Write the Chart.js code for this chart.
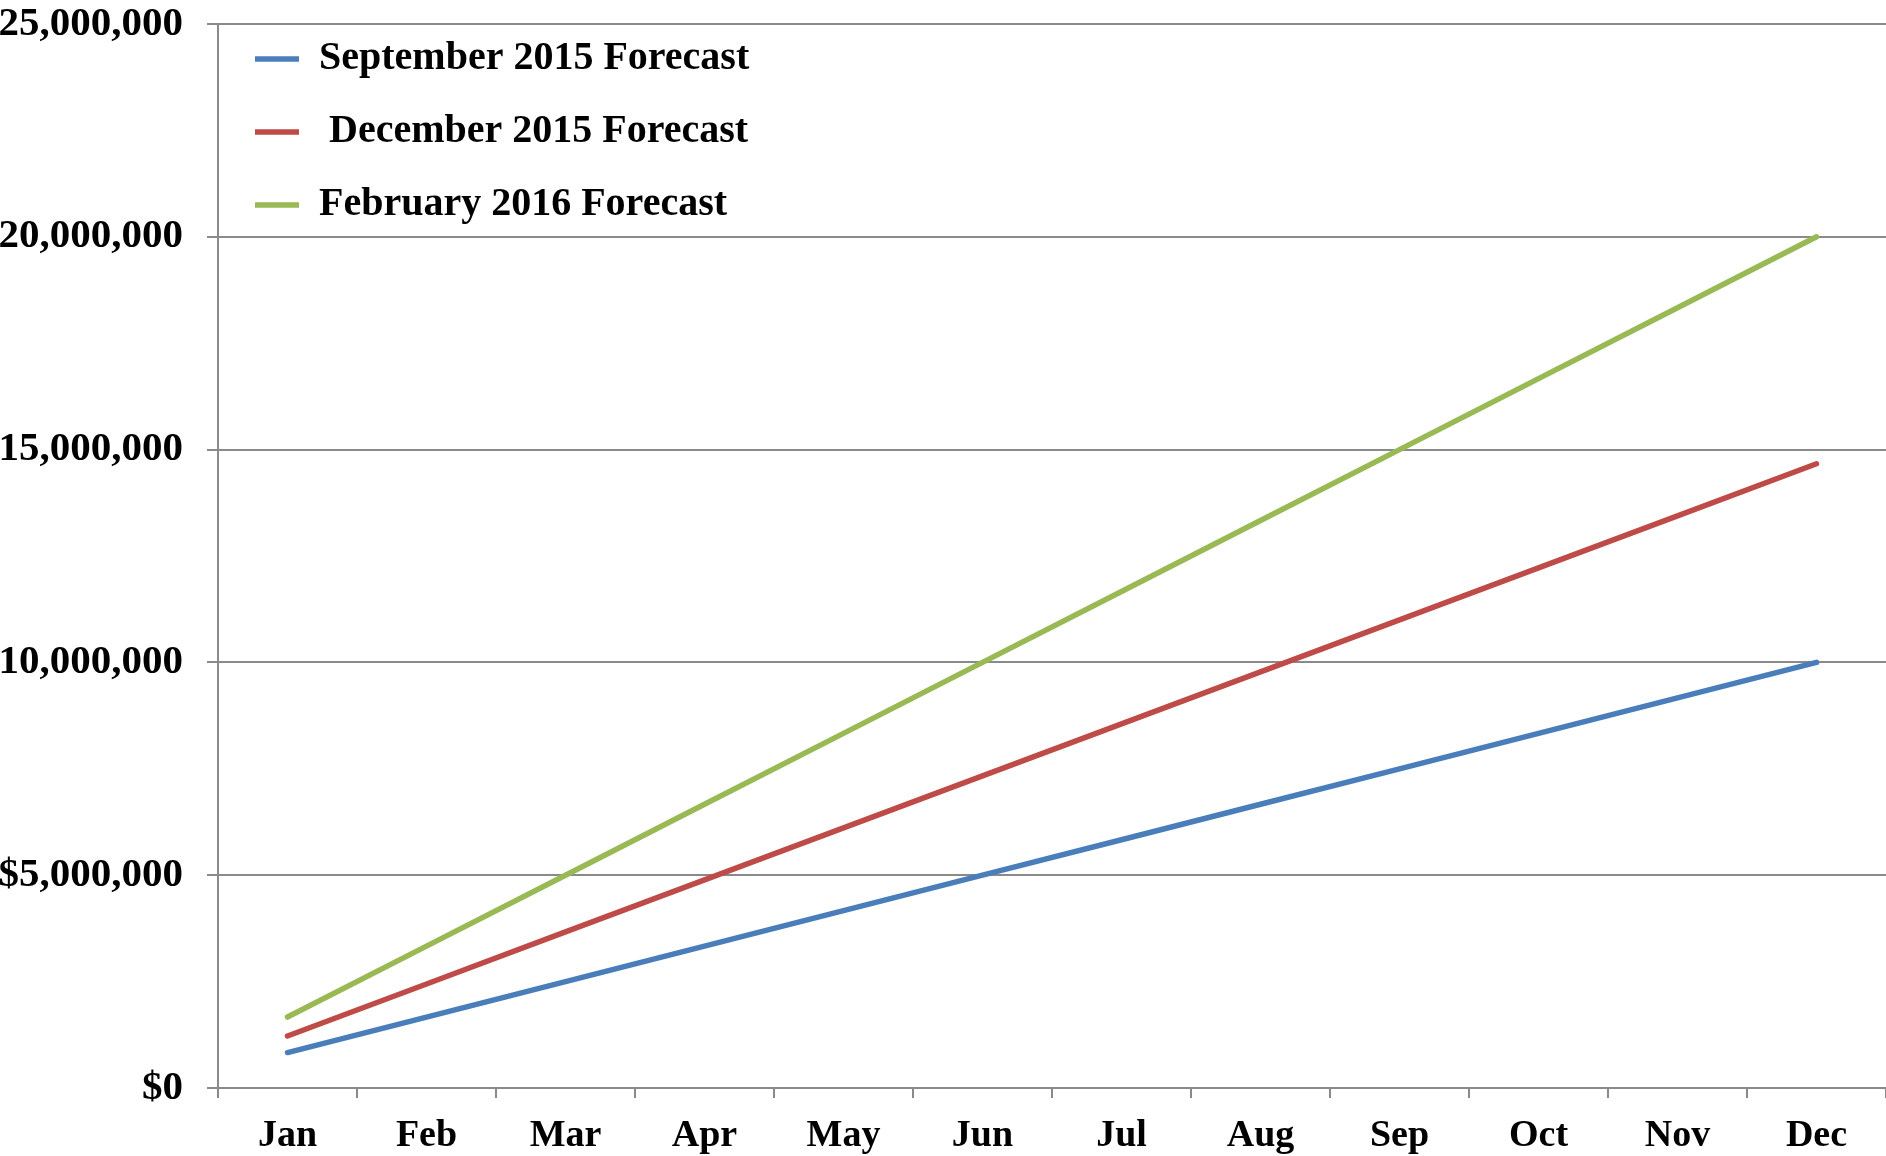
<!DOCTYPE html>
<html>
<head>
<meta charset="utf-8">
<script src="https://cdn.jsdelivr.net/npm/chart.js"></script>
<style>
  html, body { margin: 0; padding: 0; background: #fff; overflow: hidden; }
  #wrap { width: 1886px; height: 1156px; position: relative; }
</style>
</head>
<body>
<div id="wrap"><canvas id="forecastChart"></canvas></div>
<script>
// categories
var months = ['Jan', 'Feb', 'Mar', 'Apr', 'May', 'Jun', 'Jul', 'Aug', 'Sep', 'Oct', 'Nov', 'Dec'];

// series values
var sep2015 = [833000, 1667000, 2500000, 3333000, 4167000, 5000000, 5833000, 6667000, 7500000, 8333000, 9167000, 10000000];
var dec2015 = [1222000, 2444000, 3667000, 4889000, 6111000, 7333000, 8556000, 9778000, 11000000, 12222000, 13444000, 14667000];
var feb2016 = [1667000, 3333000, 5000000, 6667000, 8333000, 10000000, 11667000, 13333000, 15000000, 16667000, 18333000, 20000000];

// y axis ticks
var yTicks = [0, 5000000, 10000000, 15000000, 20000000, 25000000];

var gridGray = '#8a8a8a';
var fontFamily = "'Liberation Serif', 'Times New Roman', serif";

// puts the legend in the top left corner of the plot
var legendPlace = {
    id: 'legendPlace',
    afterLayout: function(chart) {
        var area = chart.chartArea;
        chart.legend.top = area.top - 18;
        chart.legend.left = area.left + 4;
        chart.legend.bottom = area.bottom;
    }
};

function line(label, values, color) {
    return {
        label: label,
        data: values,
        borderColor: color,
        backgroundColor: color,
        borderWidth: 5.5,
        borderCapStyle: 'round',
        borderJoinStyle: 'round',
        pointRadius: 0,
        pointStyle: 'line',
        tension: 0,
        fill: false
    };
}

var ctx = document.getElementById('forecastChart').getContext('2d');
new Chart(ctx, {
    type: 'line',
    data: {
        labels: months,
        datasets: [
            line('September 2015 Forecast', sep2015, '#4a7ebb'),
            line(' December 2015 Forecast', dec2015, '#be4b48'),
            line('February 2016 Forecast', feb2016, '#98b954')
        ]
    },
    options: {
        responsive: true,
        maintainAspectRatio: false,
        animation: false,
        layout: { padding: { top: 24, left: 0, right: 0, bottom: 0 } },
        scales: {
            x: {
                offset: true,
                grid: {
                    offset: true,
                    drawOnChartArea: false,
                    drawTicks: true,
                    tickLength: 10,
                    color: gridGray,
                    lineWidth: 2
                },
                border: { color: gridGray, width: 2 },
                ticks: {
                    color: '#000',
                    padding: 15,
                    maxRotation: 0,
                    font: { family: fontFamily, size: 38, weight: 'bold' }
                },
                afterFit: function(scale) { scale.height = 68; }
            },
            y: {
                min: 0,
                max: 25000000,
                afterBuildTicks: function(scale) {
                    scale.ticks = yTicks.map(function(v) { return { value: v }; });
                },
                grid: {
                    color: gridGray,
                    lineWidth: 2,
                    drawTicks: true,
                    tickLength: 11
                },
                border: { color: gridGray, width: 2 },
                ticks: {
                    color: '#000',
                    padding: 24,
                    font: { family: fontFamily, size: 41, weight: 'bold' },
                    callback: function(value) {
                        return '$' + Number(value).toLocaleString('en-US');
                    }
                },
                afterFit: function(scale) {
                    scale.width = 218;
                    scale.paddingTop = 0;
                    scale.paddingBottom = 0;
                }
            }
        },
        plugins: {
            legend: {
                position: 'chartArea',
                align: 'start',
                labels: {
                    usePointStyle: true,
                    pointStyleWidth: 44,
                    padding: 33,
                    color: '#000',
                    font: { family: fontFamily, size: 40, weight: 'bold' }
                }
            },
            tooltip: { enabled: false }
        }
    },
    plugins: [legendPlace]
});
</script>
</body>
</html>
